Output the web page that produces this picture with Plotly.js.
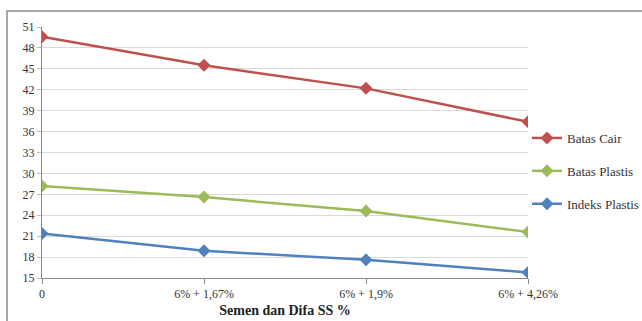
<!DOCTYPE html>
<html>
<head>
<meta charset="utf-8">
<script src="https://cdn.plot.ly/plotly-3.0.1.min.js"></script>
<style>
  html, body { margin: 0; padding: 0; background: #fff; }
  #chart { width: 642px; height: 321px; }
</style>
</head>
<body>
<div id="chart"></div>
<script>
// Mixture steps (cement + Difa SS)
const categories = ['0', '6% + 1,67%', '6% + 1,9%', '6% + 4,26%'];

// Atterberg limits per mixture
const batasCair = [49.6, 45.5, 42.2, 37.4];
const batasPlastis = [28.2, 26.6, 24.6, 21.6];
const indeksPlastis = [21.4, 18.9, 17.6, 15.8];

const yTicks = [15, 18, 21, 24, 27, 30, 33, 36, 39, 42, 45, 48, 51];

const W = 642, H = 321;
const margin = { l: 42, r: 114, t: 27, b: 43, autoexpand: false };
const plotW = W - margin.l - margin.r;
const plotH = H - margin.t - margin.b;

function series(name, y, color, group) {
  return {
    type: 'scatter',
    mode: 'lines+markers',
    name: name,
    legendgroup: group,
    x: categories,
    y: y,
    line: { color: color, width: 2.5 },
    marker: { symbol: 'diamond', size: 10, color: color }
  };
}

const data = [
  series('Batas Cair', batasCair, '#C0504D', 'a'),
  series('Batas Plastis', batasPlastis, '#9BBB59', 'b'),
  series('Indeks Plastis', indeksPlastis, '#4F81BD', 'c')
];

const serif = 'Liberation Serif, Times New Roman, serif';

const layout = {
  width: W,
  height: H,
  margin: margin,
  paper_bgcolor: '#ffffff',
  plot_bgcolor: '#ffffff',
  font: { family: serif, size: 12, color: '#333333' },
  showlegend: true,
  legend: {
    x: (527 - margin.l) / plotW,
    xanchor: 'left',
    y: (278 - 171) / plotH,
    yanchor: 'middle',
    font: { family: serif, size: 13, color: '#333333' },
    traceorder: 'grouped',
    tracegroupgap: 13,
    bgcolor: 'rgba(0,0,0,0)'
  },
  xaxis: {
    type: 'category',
    range: [0, categories.length - 1],
    showgrid: false,
    zeroline: false,
    showline: true,
    linecolor: '#888888',
    linewidth: 1,
    ticks: 'outside',
    ticklen: 5,
    tickcolor: '#888888',
    tickfont: { family: serif, size: 12 },
    title: {
      text: '<b>Semen dan Difa SS %</b>',
      font: { family: serif, size: 14, color: '#222222' },
      standoff: 4
    }
  },
  yaxis: {
    range: [15, 51],
    tickvals: yTicks,
    ticktext: yTicks.map(String),
    showgrid: true,
    gridcolor: '#d9d9d9',
    gridwidth: 1,
    zeroline: false,
    showline: true,
    linecolor: '#888888',
    linewidth: 1,
    ticks: 'outside',
    ticklen: 4,
    tickcolor: '#bbbbbb',
    tickfont: { family: serif, size: 12 }
  },
  shapes: [{
    type: 'rect',
    xref: 'paper', yref: 'paper',
    x0: (7 - margin.l) / plotW,
    x1: (660 - margin.l) / plotW,
    y0: -(340 - (H - margin.b)) / plotH,
    y1: 1 + (margin.t - 11) / plotH,
    line: { color: '#8c8c8c', width: 1.5 },
    fillcolor: 'rgba(0,0,0,0)',
    layer: 'below'
  }]
};

Plotly.newPlot('chart', data, layout, { displayModeBar: false, staticPlot: true });
</script>
</body>
</html>
